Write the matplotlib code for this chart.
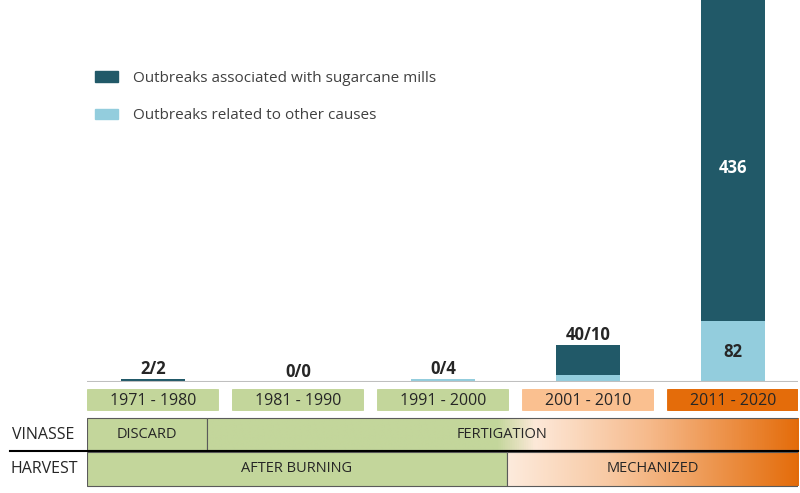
import matplotlib
matplotlib.use("Agg")
import matplotlib.pyplot as plt
import numpy as np
from matplotlib.patches import FancyBboxPatch, Rectangle
from matplotlib.colors import LinearSegmentedColormap
from matplotlib.lines import Line2D

# ---- data ----
decades = ["1971 - 1980", "1981 - 1990", "1991 - 2000", "2001 - 2010", "2011 - 2020"]
mills = [2, 0, 0, 40, 436]
other = [2, 0, 4, 10, 82]
bar_labels = ["2/2", "0/0", "0/4", "40/10", None]
decade_colors = ["#c3d69b", "#c3d69b", "#c3d69b", "#fac090", "#e46c0a"]
legend_labels = ["Outbreaks associated with sugarcane mills", "Outbreaks related to other causes"]

# timeline periods in category units
vinasse_periods = [("DISCARD", -0.455, 0.37), ("FERTIGATION", 0.37, 4.448)]
harvest_periods = [("AFTER BURNING", -0.455, 2.44), ("MECHANIZED", 2.44, 4.448)]

DARK = "#215968"
LIGHT = "#93cddd"
GREEN = "#c3d69b"
ORANGE = "#e46c0a"
TXT = "#262626"

plt.rcParams['font.family'] = ['Open Sans', 'DejaVu Sans']

W, H = 800, 493
fig = plt.figure(figsize=(8, 4.93), dpi=100)

left_px, right_px, base_px = 87, 798, 382
ax = fig.add_axes([left_px / W, (H - base_px) / H, (right_px - left_px) / W, base_px / H])
x = np.arange(len(decades))
xl = (-0.455, 4.448)
ax.set_xlim(*xl)
ax.set_ylim(0, 515)
bw = 0.44
ax.bar(x, other, width=bw, color=LIGHT, zorder=2)
ax.bar(x, mills, width=bw, bottom=other, color=DARK, zorder=2)
for s in ax.spines.values():
    s.set_visible(False)
ax.set_xticks([]); ax.set_yticks([])
ax.axhline(0, color="#bfbfbf", lw=1.5, zorder=3)

for i, lab in enumerate(bar_labels):
    if lab is None:
        continue
    tot = mills[i] + other[i]
    ax.annotate(lab, (x[i], tot), xytext=(0, 1), textcoords="offset points",
                ha="center", va="bottom", fontsize=12, fontweight="bold", color=TXT)
# values inside last bar
ax.text(x[4], other[4] / 2, str(other[4]), ha="center", va="center",
        fontsize=12, fontweight="bold", color=TXT)
ax.text(x[4], other[4] + mills[4] / 2 - 12, str(mills[4]), ha="center", va="center",
        fontsize=12, fontweight="bold", color="white")

# legend
leg_handles = [Rectangle((0, 0), 1, 1, color=DARK), Rectangle((0, 0), 1, 1, color=LIGHT)]
ax.legend(leg_handles, legend_labels, loc="upper left", bbox_to_anchor=(-0.008, 0.85),
          frameon=False, fontsize=11, handlelength=1.5, handleheight=0.7,
          labelspacing=1.45, handletextpad=1.0, labelcolor="#404040")

# ---- timeline axes (y = pixels below baseline) ----
axt = fig.add_axes([left_px / W, 0, (right_px - left_px) / W, (H - base_px) / H], sharex=ax)
axt.set_ylim(H - base_px, 0)
axt.axis("off")

# decade boxes
for i, d in enumerate(decades):
    bx = FancyBboxPatch((x[i] - 0.455, 7), 0.91, 22,
                        boxstyle="round,pad=0,rounding_size=0.03",
                        mutation_aspect=8, facecolor=decade_colors[i], edgecolor="none")
    axt.add_patch(bx)
    axt.text(x[i], 19, d, ha="center", va="center", fontsize=11.5, color=TXT)

fert_cmap = LinearSegmentedColormap.from_list(
    "fert", [(0, GREEN), (0.49, GREEN), (0.555, "#fde9d9"), (0.75, "#f6b98a"), (1, ORANGE)])
mech_cmap = LinearSegmentedColormap.from_list(
    "mech", [(0, "#fdebdd"), (0.35, "#f8c9a3"), (1, ORANGE)])
grad = np.linspace(0, 1, 512).reshape(1, -1)

def band(periods, y0, y1, cmaps):
    for (name, a, b), cm in zip(periods, cmaps):
        if cm is None:
            axt.add_patch(Rectangle((a, y0), b - a, y1 - y0, facecolor=GREEN,
                                    edgecolor="#5a5a5a", lw=0.8))
        else:
            axt.imshow(grad, cmap=cm, aspect="auto", extent=(a, b, y1, y0), zorder=1)
            axt.add_patch(Rectangle((a, y0), b - a, y1 - y0, facecolor="none",
                                    edgecolor="#5a5a5a", lw=0.8, zorder=2))
        axt.text((a + b) / 2, (y0 + y1) / 2, name, ha="center", va="center",
                 fontsize=10.5, color=TXT, zorder=3)

band(vinasse_periods, 36, 68, [None, fert_cmap])
band(harvest_periods, 70, 104, [None, mech_cmap])
axt.set_xlim(*xl)
axt.set_ylim(H - base_px, 0)

fig.add_artist(Line2D([10 / W, 798 / W], [(H - 451) / H, (H - 451) / H], color="black", lw=1.5))
fig.text(12 / W, (H - 435) / H, "VINASSE", ha="left", va="center", fontsize=11.5, color=TXT)
fig.text(10 / W, (H - 469) / H, "HARVEST", ha="left", va="center", fontsize=11.5, color=TXT)

fig.savefig("out.png", dpi=100)
